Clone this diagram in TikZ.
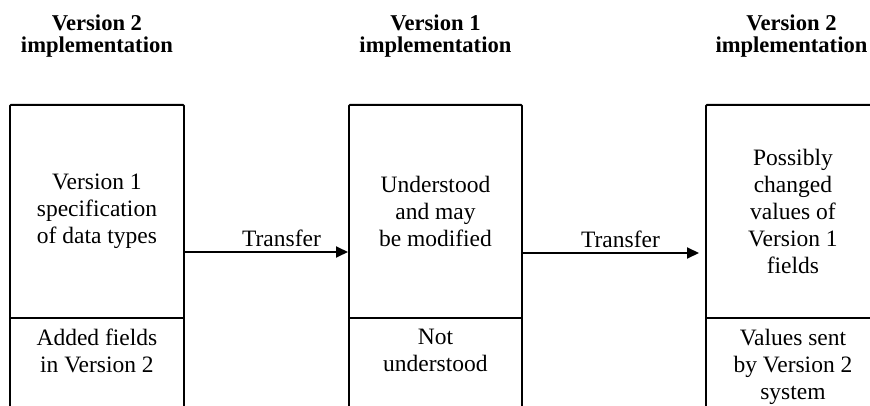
\documentclass[tikz,border=0pt]{standalone}
\usepackage{fontspec}
\setmainfont{Liberation Serif}
\usetikzlibrary{arrows.meta,calc}
\begin{document}
\begin{tikzpicture}[x=1pt,y=-1pt,
  column/.style={draw=black, line width=1.9pt, rounded corners=1pt, anchor=north west,
    inner sep=0pt, minimum height=330pt},
  divider/.style={draw=black, line width=1.9pt},
  body/.style={inner sep=0pt, align=center, font=\fontsize{23.5}{27}\selectfont},
  title/.style={inner sep=0pt, align=center, font=\fontsize{22.6}{22}\selectfont\bfseries},
  lbl/.style={inner sep=0pt, anchor=base, font=\fontsize{23.5}{27}\selectfont},
  arr/.style={line width=1.9pt, -{Triangle[length=12pt,width=11pt]}}]
\useasboundingbox (0,0) rectangle (870,406);
\clip (0,0) rectangle (870,406);
\fill[white] (0,0) rectangle (870,406);

% the three record layouts, each running past the bottom edge
\node[column, minimum width=174pt] (c1) at (9,104) {};
\node[column, minimum width=173pt] (c2) at (348,104) {};
\node[column, minimum width=174pt] (c3) at (705,104) {};

% split between the Version 1 fields and the added fields
\coordinate (d) at (0,318);
\draw[divider] (c1.west |- d) -- (c1.east |- d);
\draw[divider] (c2.west |- d) -- (c2.east |- d);
\draw[divider] (c3.west |- d) -- (c3.east |- d);

% upper compartments
\node[body] (u1) at ($(c1.north)!0.5!(c1.north |- d)$) {Version 1\\specification\\of data types};
\node[body] (u2) at ($(c2.north)!0.5!(c2.north |- d)$) {Understood\\and may\\be modified};
\node[body] (u3) at ($(c3.north)!0.5!(c3.north |- d)$) {Possibly\\changed\\values of\\Version 1\\fields};

% lower compartments
\node[body, anchor=north] (b1) at ([yshift=-11pt]c1.north |- d) {Added fields\\in Version 2};
\node[body, anchor=north] (b2) at ([yshift=-11pt]c2.north |- d) {Not\\understood};
\node[body, anchor=north] (b3) at ([yshift=-11pt]c3.north |- d) {Values sent\\by Version 2\\system};

% column headings
\node[title] (h1) at ([yshift=67.5pt]c1.north) {Version 2\\implementation};
\node[title] (h2) at ([yshift=67.5pt]c2.north) {Version 1\\implementation};
\node[title] (h3) at ([yshift=67.5pt,xshift=-1.5pt]c3.north) {Version 2\\implementation};

% transfers
\coordinate (a1) at (0,252);
\coordinate (a2) at (0,253);
\draw[arr] (c1.east |- a1) -- (c2.west |- a1);
\draw[arr, shorten >=6pt] (c2.east |- a2) -- (c3.west |- a2);
\node[lbl] (t1) at (281.5,247) {Transfer};
\node[lbl] (t2) at (620.5,247.5) {Transfer};
\end{tikzpicture}
\end{document}
